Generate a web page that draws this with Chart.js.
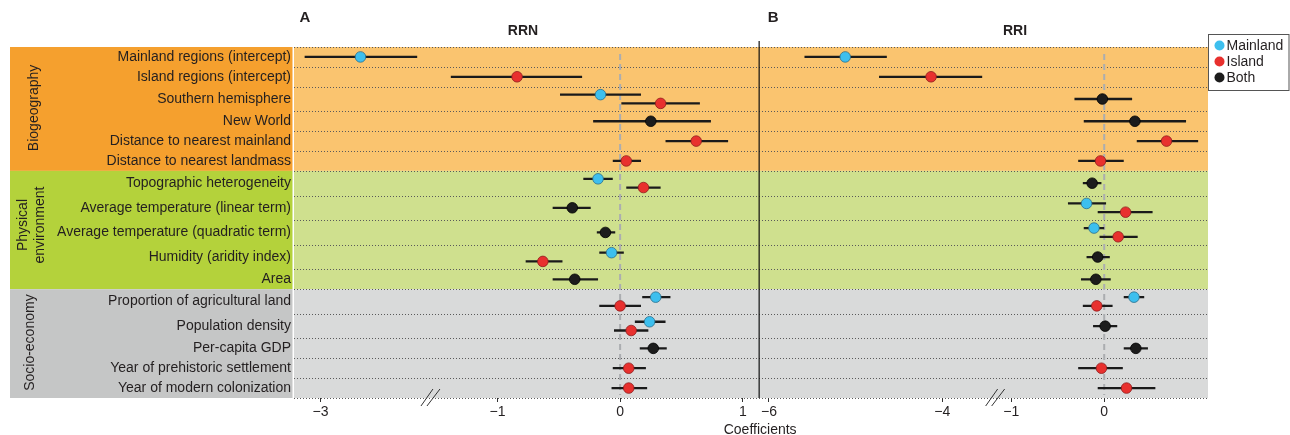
<!DOCTYPE html>
<html>
<head>
<meta charset="utf-8">
<title>RRN / RRI coefficients</title>
<script src="https://cdn.jsdelivr.net/npm/chart.js@4.4.1/dist/chart.umd.min.js"></script>
<style>
  html, body { margin: 0; padding: 0; background: #fff; }
  #wrap { width: 1290px; height: 435px; }
</style>
</head>
<body>
<div id="wrap"><canvas id="chart" width="1290" height="435"></canvas></div>
<script>
// rows, top to bottom
const predictors = [
  'Mainland regions (intercept)', 'Island regions (intercept)', 'Southern hemisphere', 'New World',
  'Distance to nearest mainland', 'Distance to nearest landmass', 'Topographic heterogeneity',
  'Average temperature (linear term)', 'Average temperature (quadratic term)', 'Humidity (aridity index)',
  'Area', 'Proportion of agricultural land', 'Population density', 'Per-capita GDP',
  'Year of prehistoric settlement', 'Year of modern colonization'
];
const groupNames = [['Biogeography'], ['Physical', 'environment'], ['Socio-economy']];
const groupSizes = [6, 5, 5];
const seriesNames = ['Mainland', 'Island', 'Both'];

// [coefficient, lower, upper] per row, null when the term is not in that model
const rrnMainland = [[-2.55, -3.18, -1.91], null, [-0.16, -0.49, 0.17], null, null, null, [-0.18, -0.30, -0.06], null, null, [-0.07, -0.17, 0.03], null, [0.29, 0.18, 0.41], [0.24, 0.12, 0.37], null, null, null];
const rrnIsland = [null, [-0.84, -1.38, -0.31], [0.33, 0.01, 0.65], null, [0.62, 0.37, 0.88], [0.05, -0.06, 0.17], [0.19, 0.05, 0.33], null, null, [-0.63, -0.77, -0.47], null, [0.00, -0.17, 0.17], [0.09, -0.05, 0.23], null, [0.07, -0.06, 0.21], [0.07, -0.07, 0.22]];
const rrnBoth = [null, null, null, [0.25, -0.22, 0.74], null, null, null, [-0.39, -0.55, -0.24], [-0.12, -0.19, -0.04], null, [-0.37, -0.55, -0.18], null, null, [0.27, 0.16, 0.38], null, null];

const rriMainland = [[-5.12, -5.59, -4.64], null, null, null, null, null, null, [-0.19, -0.39, 0.02], [-0.11, -0.22, 0.00], null, null, [0.32, 0.21, 0.43], null, null, null, null];
const rriIsland = [null, [-4.13, -4.73, -3.54], null, null, [0.67, 0.35, 1.01], [-0.04, -0.28, 0.21], null, [0.23, -0.07, 0.52], [0.15, -0.05, 0.36], null, null, [-0.08, -0.23, 0.09], null, null, [-0.03, -0.28, 0.20], [0.24, -0.07, 0.55]];
const rriBoth = [null, null, [-0.02, -0.32, 0.30], [0.33, -0.22, 0.88], null, null, [-0.13, -0.23, -0.03], null, null, [-0.07, -0.19, 0.06], [-0.09, -0.25, 0.07], null, [0.01, -0.12, 0.14], [0.34, 0.21, 0.47], null, null];

// tick labels of the broken axes (left piece / right piece)
const rrnTicksLeft = [-3];
const rrnTicksRight = [-1, 0, 1];
const rriTicksLeft = [-6, -4];
const rriTicksRight = [-1, 0];

const fills = ['#3dbfee', '#e8302e', '#1c1c1c'];
const edges = ['#2c6f8c', '#8e1d1d', '#000000'];
const labelBand = ['#f5a02e', '#b4d23b', '#c5c6c6'];
const plotBand = ['#fac46f', '#cfe08e', '#d9dada'];
const FONT = '"Liberation Sans", Arial, sans-serif';

const rrnSets = [rrnMainland, rrnIsland, rrnBoth];
const rriSets = [rriMainland, rriIsland, rriBoth];

// rows holding two estimates are a bit taller
function rowCount(i, sets) { return sets.filter(s => s[i]).length; }
const rowH = predictors.map((p, i) => Math.max(rowCount(i, rrnSets), rowCount(i, rriSets)) > 1 ? 1.24 : 1);
const rowEdges = [0];
rowH.forEach(h => rowEdges.push(rowEdges[rowEdges.length - 1] + h));
const rowMid = rowH.map((h, i) => rowEdges[i] + h / 2);
const yMax = rowEdges[rowEdges.length - 1];

const datasets = [];
function addPanel(panel, sets, cut) {
  sets.forEach((set, g) => {
    set.forEach((e, i) => {
      if (!e) return;
      let off = 0;
      if (rowCount(i, sets) > 1) off = sets.findIndex(s => s[i]) === g ? -0.22 : 0.22;
      const y = rowMid[i] + off;
      const ax = panel + (e[0] < cut ? 'L' : 'R');
      datasets.push({
        label: seriesNames[g] + ' CI', xAxisID: ax, yAxisID: 'y', showLine: true,
        data: [{ x: e[1], y }, { x: e[2], y }],
        borderColor: '#1a1a1a', borderWidth: 2.3, pointRadius: 0, order: 2
      });
      datasets.push({
        label: seriesNames[g], xAxisID: ax, yAxisID: 'y',
        data: [{ x: e[0], y }],
        backgroundColor: fills[g], borderColor: edges[g], borderWidth: 0.8, pointRadius: 5.3, order: 1
      });
    });
  });
}
addPanel('a', rrnSets, -1.66);
addPanel('b', rriSets, -2.3);

function minus(v) { return v < 0 ? '\u2212' + Math.abs(v) : String(v); }

function pieceAxis(min, max, ticks, weight) {
  return {
    type: 'linear', axis: 'x', position: 'bottom', stack: 'coef', stackWeight: weight,
    min, max,
    afterBuildTicks: ax => { ax.ticks = ticks.map(v => ({ value: v })); },
    afterFit: ax => { ax.height = 37; },
    grid: { drawOnChartArea: false, drawTicks: true, tickLength: 4, color: '#333', lineWidth: 1 },
    border: { display: false },
    ticks: { padding: 2, maxRotation: 0, autoSkip: false, color: '#231f20', font: { size: 14, family: FONT }, callback: minus }
  };
}

const decor = {
  id: 'decor',
  beforeDraw(chart) {
    const { ctx, chartArea: ca, scales } = chart;
    const ys = scales.y;
    ctx.save();
    let r = 0;
    groupSizes.forEach((n, g) => {
      const top = ys.getPixelForValue(rowEdges[r]);
      const bot = ys.getPixelForValue(rowEdges[r + n]);
      ctx.fillStyle = labelBand[g];
      ctx.fillRect(10, top, ca.left - 11.5, bot - top);
      ctx.fillStyle = plotBand[g];
      ctx.fillRect(ca.left, top, ca.right - ca.left, bot - top);
      // group name, rotated
      const lines = groupNames[g];
      const mid = (top + bot) / 2 - (lines.length > 1 ? 5 : 1);
      ctx.fillStyle = '#231f20';
      ctx.font = '14px ' + FONT;
      ctx.textAlign = 'center';
      ctx.textBaseline = 'alphabetic';
      lines.forEach((t, k) => {
        const bx = lines.length === 1 ? (g === 0 ? 38 : 33.5) : 27 + k * 17;
        ctx.save();
        ctx.translate(bx, mid);
        ctx.rotate(-Math.PI / 2);
        ctx.fillText(t, 0, 0);
        ctx.restore();
      });
      r += n;
    });
    // dotted row separators
    ctx.strokeStyle = '#5a5a5a';
    ctx.lineWidth = 1;
    ctx.setLineDash([1, 2]);
    rowEdges.forEach(v => {
      const py = Math.round(ys.getPixelForValue(v)) + 0.5;
      ctx.beginPath();
      ctx.moveTo(ca.left, py);
      ctx.lineTo(ca.right, py);
      ctx.stroke();
    });
    ctx.restore();
  },
  beforeDatasetsDraw(chart) {
    const { ctx, chartArea: ca, scales } = chart;
    ctx.save();
    ctx.strokeStyle = '#abadb0';
    ctx.lineWidth = 2;
    ctx.setLineDash([6, 4]);
    ['aR', 'bR'].forEach(id => {
      const px = scales[id].getPixelForValue(0);
      ctx.beginPath();
      ctx.moveTo(px, ca.top + 7);
      ctx.lineTo(px, ca.bottom - 3);
      ctx.stroke();
    });
    ctx.restore();
  },
  afterDraw(chart) {
    const { ctx, chartArea: ca, scales } = chart;
    ctx.save();
    const divX = scales.bL.left;
    ctx.strokeStyle = '#111';
    ctx.lineWidth = 1.2;
    ctx.beginPath();
    ctx.moveTo(divX, 41);
    ctx.lineTo(divX, ca.bottom);
    ctx.stroke();
    // axis break marks
    ctx.lineWidth = 1;
    ctx.strokeStyle = '#333';
    [scales.aL.right, scales.bL.right].forEach(bx => {
      [[-9, 3], [-3, 10]].forEach(([a, b]) => {
        ctx.beginPath();
        ctx.moveTo(bx + a, ca.bottom + 8);
        ctx.lineTo(bx + b, ca.bottom - 9);
        ctx.stroke();
      });
    });
    // titles
    ctx.fillStyle = '#231f20';
    ctx.textBaseline = 'middle';
    ctx.textAlign = 'center';
    ctx.font = 'bold 15px ' + FONT;
    ctx.fillText('A', ca.left + 11, 18);
    ctx.fillText('B', divX + 14, 18);
    ctx.font = 'bold 14px ' + FONT;
    ctx.fillText('RRN', 523, 31);
    ctx.fillText('RRI', 1015, 31);
    ctx.font = '14px ' + FONT;
    ctx.fillText('Coefficients', divX + 1, 430);
    // legend
    const lx = ca.right, ly = 34.5;
    ctx.fillStyle = '#fff';
    ctx.fillRect(lx, ly, 81, 56);
    ctx.strokeStyle = '#555';
    ctx.lineWidth = 1;
    ctx.strokeRect(lx + 0.5, ly, 80.5, 56);
    ctx.textAlign = 'left';
    seriesNames.forEach((s, k) => {
      const cy = ly + 11 + k * 16;
      ctx.fillStyle = fills[k];
      ctx.beginPath();
      ctx.arc(lx + 11.5, cy, 5, 0, Math.PI * 2);
      ctx.fill();
      ctx.fillStyle = '#231f20';
      ctx.fillText(s, lx + 18.5, cy + 0.5);
    });
    ctx.restore();
  }
};

new Chart(document.getElementById('chart'), {
  type: 'scatter',
  data: { datasets },
  plugins: [decor],
  options: {
    responsive: false,
    animation: false,
    events: [],
    layout: { padding: { left: 10, top: 47, right: 82, bottom: 0 } },
    plugins: { legend: { display: false }, tooltip: { enabled: false } },
    scales: {
      aL: pieceAxis(-3.30, -1.766, rrnTicksLeft, 136),
      aR: pieceAxis(-1.55, 1.133, rrnTicksRight, 329.3),
      bL: pieceAxis(-6.113, -3.396, rriTicksLeft, 235.6),
      bR: pieceAxis(-1.178, 1.116, rriTicksRight, 213.4),
      y: {
        type: 'linear', position: 'left', reverse: true, min: 0, max: yMax,
        afterBuildTicks: ax => { ax.ticks = rowMid.map(v => ({ value: v })); },
        afterFit: ax => { ax.width = 284; },
        grid: { display: false, drawTicks: false },
        border: { display: false },
        ticks: { autoSkip: false, padding: 3, color: '#231f20', font: { size: 14, family: FONT }, callback: (v, i) => predictors[i] }
      }
    }
  }
});
</script>
</body>
</html>
